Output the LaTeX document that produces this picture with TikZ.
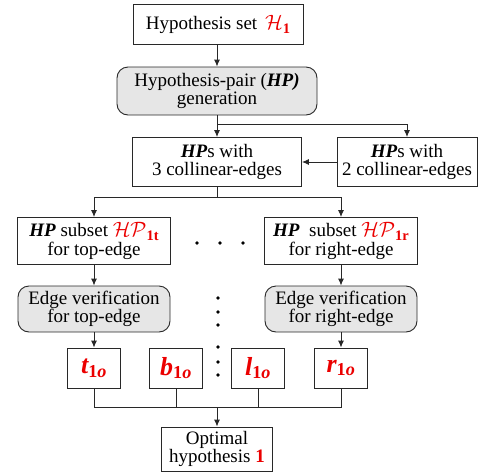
\documentclass[tikz,border=0pt]{standalone}
\usepackage{fontspec}
\setmainfont{Liberation Serif}
\usetikzlibrary{arrows.meta, calc}
\definecolor{hred}{RGB}{235, 0, 0}
\definecolor{vfill}{RGB}{230, 230, 230}
\definecolor{lncol}{RGB}{40, 40, 40}
\newcommand{\calset}[2]{\textcolor{hred}{{\fontsize{21}{21}\selectfont$\mathcal{#1}$}%
  \raisebox{-4pt}{\fontsize{14.5}{14.5}\selectfont\bfseries #2}}}

\begin{document}
\begin{tikzpicture}[
  x=1pt, y=-1pt,
  every node/.style={font=\fontsize{19}{18.5}\selectfont},
  box/.style 2 args={
    draw=lncol, line width=0.9pt, fill=white, align=center,
    inner sep=0pt, minimum width=#1, minimum height=#2,
  },
  vbox/.style={box={152pt}{46pt}, rounded corners=11pt, fill=vfill},
  obox/.style={box={53pt}{40pt}, text=hred,
    font=\fontsize{26}{26}\selectfont\bfseries\itshape},
  arr/.style={-{Latex[length=7pt, width=6pt]}, lncol, line width=0.9pt},
  ln/.style={lncol, line width=0.9pt},
  dot/.style={circle, fill=black, inner sep=0pt, minimum size=3.6pt},
]

\useasboundingbox (0,0) rectangle (480,472);

% Top part
\node[box={170pt}{40pt}] (hset) at (218,24)
  {Hypothesis set \,\calset{H}{1}};
\node[vbox, minimum width=200pt, minimum height=48pt] (hpgen) at (217,91)
  {Hypothesis-pair (\textbf{\textit{HP)}}\\generation};
\node[box={169pt}{49pt}] (hp3) at (217,162)
  {\textbf{\textit{HP}}s with\\3 collinear-edges};
\node[box={140pt}{49pt}] (hp2) at (407,162)
  {\textbf{\textit{HP}}s with\\2 collinear-edges};

% Subsets and verification
\node[box={153pt}{47pt}] (subt) at (94,241)
  {\textbf{\textit{HP}} subset \calset{HP}{1t}\\for top-edge};
\node[box={153pt}{47pt}] (subr) at (341,241)
  {\textbf{\textit{HP}}\ \ subset \calset{HP}{1r}\\for right-edge};
\node[vbox] (vert) at (94,309) {Edge verification\\for top-edge};
\node[vbox] (verr) at (341,309) {Edge verification\\for right-edge};

% Optimal edges
\foreach \e/\x in {t/94, b/176, l/258, r/341}{
  \node[obox] (o\e) at (\x,368) {\e\textsubscript{\upshape 1\itshape o}};
}
\node[box={111pt}{44pt}] (opt) at (217,449)
  {Optimal\\hypothesis \textcolor{hred}{\textbf{1}}};

% Dots
\foreach \x in {197,220,243}{
  \node[dot] (hd\x) at (\x,243) {};
}
\foreach \y in {298,312,325,347,362,375}{
  \node[dot] (vd\y) at (218,\y) {};
}

% Connectors
\coordinate (fork1) at (217,124);
\coordinate (fork2) at (217,197);
\coordinate (join) at (217,407);
\draw[arr] (hset.south -| hpgen) -- (hpgen);
\draw[arr] (hpgen) -- (hp3);
\draw[arr] (fork1) -| (hp2);
\draw[arr] (hp2) -- (hp3);
\draw[ln] (hp3) -- (fork2);
\draw[arr] (fork2) -| (subt);
\draw[arr] (fork2) -| (subr);
\draw[arr] (subt) -- (vert);
\draw[arr] (subr) -- (verr);
\draw[arr] (vert) -- (ot);
\draw[arr] (verr) -- (or);
\foreach \e in {t,b,l,r}{
  \draw[ln] (o\e) |- (join);
}
\draw[arr] (join) -- (opt);

\end{tikzpicture}
\end{document}
